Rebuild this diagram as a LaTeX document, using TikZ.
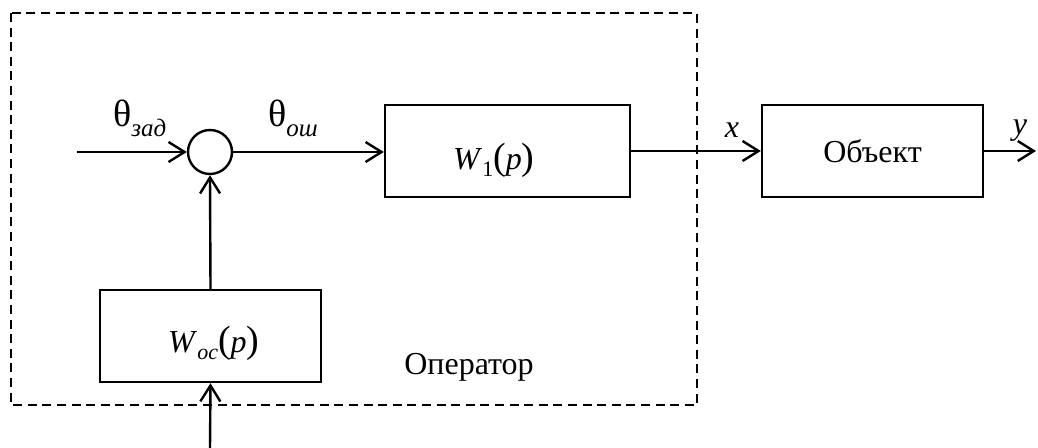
\documentclass[tikz,border=0pt]{standalone}
\usepackage{fontspec}
\setmainfont{Liberation Serif}
\usetikzlibrary{arrows.meta}
\newcommand{\mysub}[1]{\raisebox{-0.45ex}{\fontsize{11}{12}\selectfont #1}}
\newcommand{\thsub}[1]{\raisebox{-5pt}{\fontsize{12.5}{14}\selectfont #1}}
\newcommand{\bigpar}[1]{{\fontsize{19}{22}\selectfont(}#1{\fontsize{19}{22}\selectfont)}}
\begin{document}
\begin{tikzpicture}[x=0.5pt,y=-0.5pt,
  line width=1.2pt,
  arr/.style={-{Straight Barb[length=8pt,width=10pt,line width=1.2pt]}},
  blk/.style={draw,line width=1.2pt,minimum width=#1,minimum height=46pt,inner sep=0pt,font=\fontsize{16}{19}\selectfont},
  lbl/.style={anchor=base,inner sep=0pt,font=\fontsize{16}{19}\selectfont},
  lblw/.style={anchor=base west,inner sep=0pt,font=\fontsize{16}{19}\selectfont},
  thl/.style={anchor=base west,inner sep=0pt,font=\fontsize{19}{22}\selectfont},
  sum/.style={draw,circle,line width=1.2pt,minimum size=22pt,inner sep=0pt},
  frame/.style={draw,line width=0.8pt,dash pattern=on 4.5pt off 2.8pt}]
\useasboundingbox (0,0) rectangle (1038,448);
\draw[frame] (11,13) rectangle (697,405);
\node[sum] (s) at (210,152) {};
\node[blk=122.5pt] (w1) at (507.5,151) {};
\node[blk=110.5pt] (obj) at (872.5,151) {Объект};
\node[blk=110.5pt] (woc) at (210.5,336) {};
\node[lblw] (w1t) at (452,170) {\textit{W}\mysub{1}\bigpar{\textit{p}}};
\node[lblw] (woct) at (167,353) {\textit{W}\mysub{\textit{oc}}\bigpar{\textit{p}}};
\node[lbl] (op) at (469,375) {Оператор};
\coordinate (in1) at (77,152);
\coordinate (in2) at (210,448);
\coordinate (out) at (1036,151);
\draw[arr] (in1) -- (s.west);
\draw[arr] (s.east) -- (w1.west |- s.east);
\draw[arr] (woc.north) -- (s.south);
\draw[arr] (in2) -- (woc.south);
\draw[arr] (w1.east) -- (obj.west);
\draw[arr] (obj.east) -- (out);
\node[thl] (tz) at (112,127) {θ\thsub{\textit{зад}}};
\node[thl] (to) at (267,127) {θ\thsub{\textit{ош}}};
\node[lbl] (xl) at (732,138) {\textit{x}};
\node[lbl] (yl) at (1020,135) {\textit{y}};
\end{tikzpicture}
\end{document}
